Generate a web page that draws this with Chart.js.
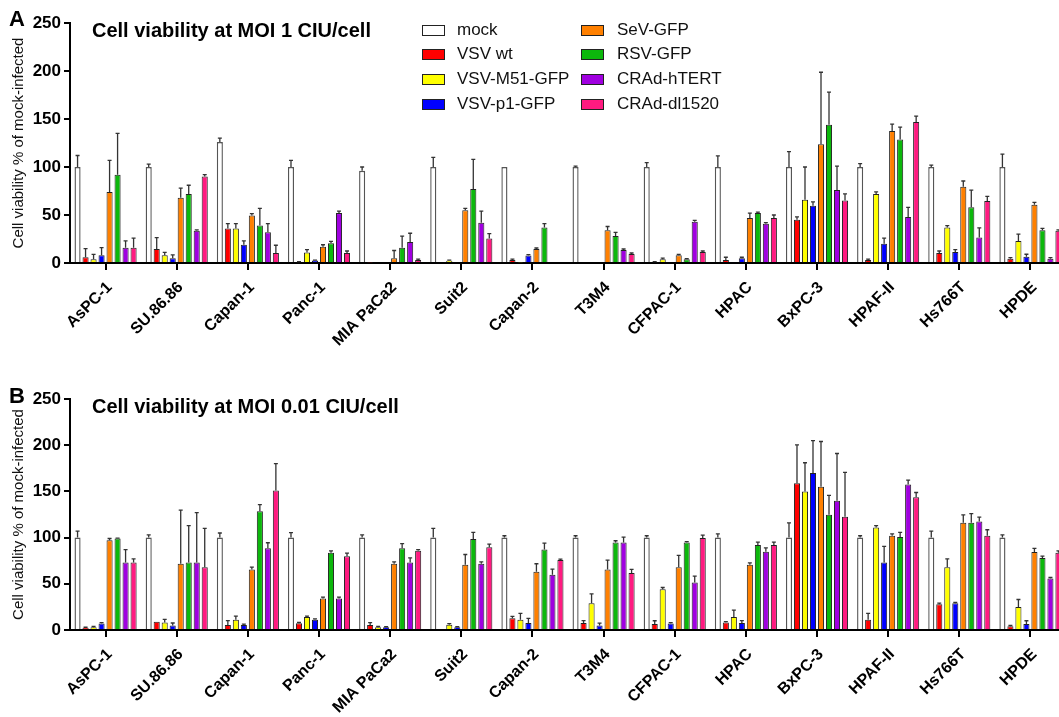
<!DOCTYPE html>
<html><head><meta charset="utf-8">
<script src="https://cdn.jsdelivr.net/npm/chart.js@4.4.0/dist/chart.umd.min.js"></script>
<style>
html,body{margin:0;padding:0;background:#fff;width:1059px;height:717px;overflow:hidden;position:relative;font-family:"Liberation Sans",Arial,sans-serif;}
.abs{position:absolute;}
#wa{left:0;top:0;width:1070px;height:370px}
#wb{left:0;top:360px;width:1070px;height:357px}
.letter{font-weight:bold;font-size:22px;line-height:22px;color:#000}
.ptitle{font-weight:bold;font-size:20px;line-height:20px;color:#000;white-space:nowrap}
.lt{position:absolute;font-size:17px;line-height:18px;color:#111;white-space:nowrap}
.sw{position:absolute;width:21px;height:9px;border:1.5px solid #222}
</style></head>
<body>
<div id="wa" class="abs"><canvas id="ca" width="1070" height="370"></canvas></div>
<div id="wb" class="abs"><canvas id="cb" width="1070" height="357"></canvas></div>
<div class="abs letter" style="left:9px;top:8px">A</div>
<div class="abs letter" style="left:9px;top:385px">B</div>
<div class="abs ptitle" style="left:92px;top:20px">Cell viability at MOI 1 CIU/cell</div>
<div class="abs ptitle" style="left:92px;top:396px">Cell viability at MOI 0.01 CIU/cell</div>
<div id="legend" class="abs" style="left:0;top:0"></div>
<script>
const categories = ["AsPC-1","SU.86.86","Capan-1","Panc-1","MIA PaCa2","Suit2","Capan-2","T3M4","CFPAC-1","HPAC","BxPC-3","HPAF-II","Hs766T","HPDE"];
const seriesNames = ["mock","VSV wt","VSV-M51-GFP","VSV-p1-GFP","SeV-GFP","RSV-GFP","CRAd-hTERT","CRAd-dl1520"];
const yTicks = [0,50,100,150,200,250];

// Panel A: MOI 1 CIU/cell (mean values, one row per series)
const valuesA = [
  [100,100,126,100,96,100,100,100,100,100,100,100,100,100],
  [6,14.5,36,1,0.5,1,3,0,1,3,45,3,10.5,4.5],
  [4,8,36,11,1,2.4,0.5,0,4,1,66,72,37,23],
  [8,5,19,2.5,1,1,7.7,0,1,5,59.6,20,11.5,6.6],
  [74,68,49.5,17,5,55,14.6,34,8,47,123.7,137.6,79.4,60.6],
  [92,72,39,20.5,16,77,37,28,4,52,144,128.6,58,34],
  [16,33.5,32,52,22,42,0,13.6,43,41,76,48,26.5,4.5],
  [16,90,10.5,10.5,3,25.5,0,9.4,11.5,47,65,147,64.5,33.5]
];
const errorsA = [
  [12,3,4,7,4,10,0,1,4.5,11.5,16,3.5,2,13.5],
  [9,12,5,0.5,0,0,1,0,0.5,3,3,1,2,1],
  [5,3,5,3,0,0.5,0,0,1,0,34,2,2,7],
  [8,3.5,4,0.5,0,0,1,0,0,1,4,6,2.5,2.5],
  [33,10,2,2,8,2,1,4,1,5,75,7,6,2.5],
  [43,9,18,2,12,31,4,4,0.5,1,34,13,18,2],
  [7,1,9,2,9,12,0,1,1.5,1,25,10,10,1],
  [10,2,8,2,1,5,0,1,1,3,7,6,5,1]
];
// Panel B: MOI 0.01 CIU/cell
const valuesB = [
  [100,100,100,100,100,100,100,100,100,100,100,100,100,100],
  [2.5,9,5.4,7.2,5.4,1,12.7,7.6,6.5,8,158.7,11,28,4],
  [3,8,11,14,3,5.8,11,29,44,14,150,111,68,25],
  [7,5,5.4,11,3,3,7.6,5,7,7.6,170,73,29,6.5],
  [97,71.7,65.6,34,71.7,70.7,63,65.6,68,70.7,155,102,116,84.4],
  [99,73,128.6,83.7,88.4,98.6,87,94.6,94.6,92,124.6,100.7,116,78],
  [73,73,88.4,34,73,71.7,59.8,94.6,51.4,84.8,140,157.6,117.4,55.8],
  [73,68,151,79.7,85.9,89.5,75.7,61.6,99.6,92,122.5,143.8,102,83.7]
];
const errorsB = [
  [7,3,5,5.4,3,10,2,2,2,4,16,2,7,3],
  [0.5,0,4.7,1,2.5,0,2,2.5,3.5,1,41.7,7,1,1],
  [1,3.6,4,1,1,1,7,10,2,7.6,31,2,9,8],
  [1,2.6,1,1,0.5,0.5,5,2.5,1,2.5,35,17.4,1,3.5],
  [2,58,2.5,1.5,2,11,8.7,10,12.7,2,49,2,8.7,4],
  [0.5,40,7,2,5,7,7,2,1,3,21,5,10,2],
  [14,54,6,1.5,5,2,6,6,7,4,51,4.7,4.7,1],
  [4,42,29,3.5,1,3.5,1,4,3,3,48,5,6.5,2]
];

const fillColors = ["#ffffff","#ff0000","#ffff00","#0000ff","#ff8000","#0cb80c","#a000e0","#ff1a80"];
const edgeColors = ["#555555","#222222","#222222","#222222","#222222","#222222","#222222","#222222"];
const FONT = "'Liberation Sans', Arial, sans-serif";

const errorBarPlugin = {
  id: 'errorBars',
  afterDatasetsDraw(chart, args, opts) {
    const ctx = chart.ctx, ys = chart.scales.y;
    ctx.save();
    ctx.strokeStyle = '#333';
    ctx.lineWidth = 1.3;
    chart.data.datasets.forEach((ds, i) => {
      const meta = chart.getDatasetMeta(i);
      meta.data.forEach((bar, j) => {
        const e = opts.errs[i][j];
        if (!e) return;
        const top = ys.getPixelForValue(ds.data[j] + e);
        ctx.beginPath();
        ctx.moveTo(bar.x, bar.y);
        ctx.lineTo(bar.x, top);
        ctx.moveTo(bar.x - 2, top);
        ctx.lineTo(bar.x + 2, top);
        ctx.stroke();
      });
    });
    ctx.restore();
  }
};

function makeChart(id, vals, errs, padTop, xAxisH) {
  return new Chart(document.getElementById(id), {
    type: 'bar',
    data: {
      labels: categories,
      datasets: seriesNames.map((n, i) => ({
        label: n,
        data: vals[i],
        backgroundColor: fillColors[i],
        borderColor: edgeColors[i],
        borderWidth: i === 0 ? 1.4 : 1,
        categoryPercentage: 0.9,
        barPercentage: 0.76
      }))
    },
    options: {
      responsive: false,
      animation: false,
      devicePixelRatio: 1,
      layout: { padding: { top: padTop, left: 0, right: 4, bottom: 0 } },
      plugins: {
        legend: { display: false },
        tooltip: { enabled: false },
        errorBars: { errs: errs }
      },
      scales: {
        x: {
          offset: true,
          grid: { offset: false, drawOnChartArea: false, drawTicks: true, tickLength: 7, color: '#000', lineWidth: 2 },
          border: { display: true, color: '#000', width: 2 },
          ticks: { autoSkip: false, maxRotation: 45, minRotation: 45, color: '#000', padding: 8, labelOffset: 4,
                   font: { family: FONT, size: 16, weight: 'bold' } },
          afterFit: s => { s.height = xAxisH; }
        },
        y: {
          min: 0, max: 250,
          afterBuildTicks: s => { s.ticks = yTicks.map(v => ({ value: v })); },
          grid: { drawOnChartArea: false, drawTicks: true, tickLength: 6, color: '#000', lineWidth: 2 },
          border: { display: true, color: '#000', width: 2 },
          ticks: { color: '#000', padding: 3, font: { family: FONT, size: 17, weight: 'bold' } },
          title: { display: true, text: 'Cell viability % of mock-infected', color: '#111',
                   font: { family: FONT, size: 15 }, padding: { top: 10, bottom: 0 } },
          afterFit: s => { s.width = 70; }
        }
      }
    },
    plugins: [errorBarPlugin]
  });
}

makeChart('ca', valuesA, errorsA, 23, 107);
makeChart('cb', valuesB, errorsB, 39, 87);

// Legend (panel A), two columns of four
const leg = document.getElementById('legend');
const rowY = [31, 55, 80, 105];
const colSw = [422, 581], colTx = [457, 617];
seriesNames.forEach((n, i) => {
  const c = Math.floor(i / 4), r = i % 4;
  const sw = document.createElement('div');
  sw.className = 'sw';
  sw.style.left = colSw[c] + 'px';
  sw.style.top = (rowY[r] - 6) + 'px';
  sw.style.background = fillColors[i];
  leg.appendChild(sw);
  const t = document.createElement('div');
  t.className = 'lt';
  t.style.left = colTx[c] + 'px';
  t.style.top = (rowY[r] - 10) + 'px';
  t.textContent = n;
  leg.appendChild(t);
});
</script>
</body></html>
